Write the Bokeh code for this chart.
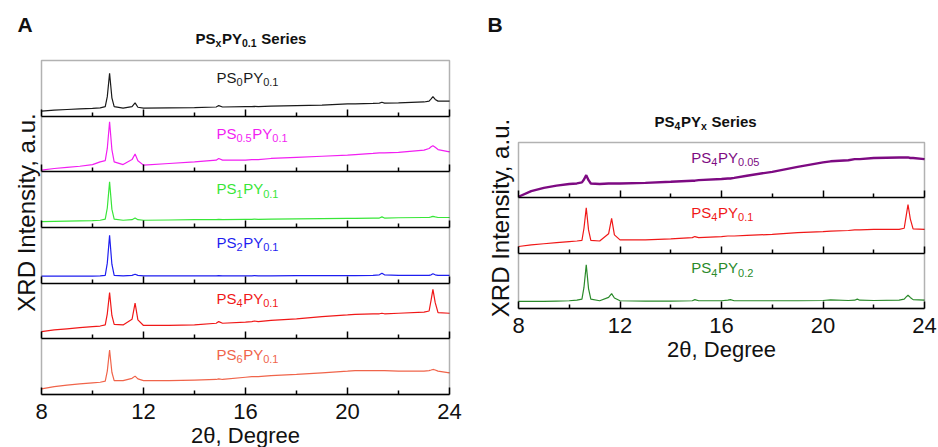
import numpy as np
from bokeh.plotting import figure
from bokeh.layouts import row
from bokeh.models import (Range1d, FixedTicker, LinearAxis, BoxAnnotation, ColumnDataSource,
                          CustomJSTickFormatter)
from bokeh.core.properties import value
from bokeh.embed import file_html
from bokeh.resources import INLINE

# ---------------- data (2-theta grid and band-relative intensities) ----------------
two_theta = [8.0, 8.5, 9.0, 9.5, 10.0, 10.3, 10.5, 10.58, 10.67, 10.76, 10.85, 11.2, 11.55,
             11.67, 11.78, 12.0, 13.0, 14.0, 14.85, 14.95, 15.1, 16.0, 16.25, 16.35, 16.5,
             17.0, 18.0, 19.0, 20.0, 20.3, 21.0, 21.25, 21.35, 21.45, 22.0, 23.0, 23.2,
             23.28, 23.35, 23.44, 23.55, 24.0]

major_ticks = [8, 12, 16, 20, 24]
minor_ticks = [10, 14, 18, 22]

# Panel A : PSxPY0.1 series (top to bottom)
ps0_py01 = [0.09, 0.11, 0.12, 0.13, 0.14, 0.15, 0.17, 0.35, 0.77, 0.33, 0.17, 0.145, 0.17,
            0.24, 0.16, 0.145, 0.15, 0.155, 0.165, 0.19, 0.165, 0.17, 0.17, 0.175, 0.17,
            0.18, 0.19, 0.20, 0.22, 0.22, 0.23, 0.235, 0.25, 0.235, 0.24, 0.255, 0.27,
            0.31, 0.35, 0.30, 0.27, 0.27]
ps05_py01 = [0.03, 0.06, 0.08, 0.10, 0.13, 0.18, 0.20, 0.42, 0.90, 0.40, 0.18, 0.13, 0.22,
             0.32, 0.20, 0.12, 0.15, 0.18, 0.21, 0.24, 0.21, 0.21, 0.22, 0.22, 0.22,
             0.24, 0.26, 0.28, 0.30, 0.31, 0.33, 0.34, 0.34, 0.34, 0.35, 0.39, 0.42,
             0.45, 0.47, 0.44, 0.40, 0.36]
ps1_py01 = [0.105, 0.11, 0.115, 0.12, 0.125, 0.13, 0.15, 0.35, 0.82, 0.33, 0.15, 0.13, 0.14,
            0.17, 0.14, 0.13, 0.135, 0.14, 0.14, 0.145, 0.14, 0.145, 0.145, 0.15, 0.145,
            0.15, 0.155, 0.16, 0.165, 0.165, 0.17, 0.17, 0.19, 0.17, 0.175, 0.18, 0.18,
            0.19, 0.20, 0.19, 0.18, 0.18]
ps2_py01 = [0.125, 0.125, 0.125, 0.125, 0.125, 0.13, 0.14, 0.36, 0.86, 0.34, 0.14, 0.13, 0.14,
            0.16, 0.14, 0.13, 0.13, 0.13, 0.13, 0.135, 0.13, 0.13, 0.13, 0.135, 0.13,
            0.13, 0.135, 0.135, 0.135, 0.135, 0.14, 0.15, 0.18, 0.15, 0.14, 0.14, 0.14,
            0.15, 0.17, 0.15, 0.14, 0.14]
ps4_py01 = [0.13, 0.16, 0.18, 0.20, 0.22, 0.23, 0.25, 0.45, 0.83, 0.42, 0.26, 0.25, 0.35,
            0.64, 0.34, 0.24, 0.24, 0.25, 0.28, 0.31, 0.28, 0.30, 0.31, 0.32, 0.31,
            0.33, 0.36, 0.40, 0.43, 0.44, 0.45, 0.45, 0.46, 0.45, 0.46, 0.48, 0.50,
            0.70, 0.89, 0.65, 0.47, 0.46]
ps6_py01 = [0.10, 0.14, 0.17, 0.19, 0.21, 0.22, 0.24, 0.42, 0.80, 0.40, 0.25, 0.25, 0.29,
            0.33, 0.28, 0.25, 0.25, 0.26, 0.27, 0.28, 0.27, 0.31, 0.32, 0.32, 0.32,
            0.34, 0.36, 0.39, 0.42, 0.43, 0.43, 0.43, 0.43, 0.43, 0.42, 0.42, 0.43,
            0.44, 0.45, 0.44, 0.42, 0.39]

# Panel B : PS4PYx series (top to bottom)
ps4_py005 = [0.02, 0.12, 0.18, 0.22, 0.25, 0.26, 0.28, 0.33, 0.41, 0.32, 0.26, 0.25, 0.26,
             0.26, 0.26, 0.26, 0.27, 0.29, 0.31, 0.31, 0.32, 0.34, 0.35, 0.35, 0.36,
             0.40, 0.47, 0.56, 0.64, 0.66, 0.68, 0.70, 0.70, 0.70, 0.72, 0.73, 0.73,
             0.73, 0.73, 0.72, 0.72, 0.70]
ps4_py01_b = [0.12, 0.15, 0.17, 0.19, 0.21, 0.22, 0.23, 0.45, 0.82, 0.42, 0.23, 0.22, 0.35,
              0.63, 0.33, 0.24, 0.24, 0.26, 0.28, 0.30, 0.28, 0.30, 0.31, 0.31, 0.31,
              0.32, 0.34, 0.37, 0.39, 0.40, 0.41, 0.42, 0.42, 0.42, 0.43, 0.43, 0.45,
              0.68, 0.88, 0.62, 0.44, 0.43]
ps4_py02 = [0.13, 0.13, 0.13, 0.135, 0.14, 0.15, 0.17, 0.38, 0.79, 0.36, 0.17, 0.14, 0.20,
            0.27, 0.19, 0.14, 0.135, 0.135, 0.14, 0.16, 0.14, 0.14, 0.15, 0.16, 0.14,
            0.14, 0.14, 0.14, 0.145, 0.155, 0.145, 0.15, 0.17, 0.15, 0.145, 0.15, 0.17,
            0.21, 0.24, 0.20, 0.16, 0.15]

a_series = [ps0_py01, ps05_py01, ps1_py01, ps2_py01, ps4_py01, ps6_py01]
a_sub_s = ["0", "0.5", "1", "2", "4", "6"]
a_sub_y = ["0.1", "0.1", "0.1", "0.1", "0.1", "0.1"]
a_colors = ["#1a1a1a", "#f21ef2", "#38e638", "#1e1ef0", "#f01818", "#f0644a"]

b_series = [ps4_py005, ps4_py01_b, ps4_py02]
b_sub_s = ["4", "4", "4"]
b_sub_y = ["0.05", "0.1", "0.2"]
b_colors = ["#7d0a82", "#f01818", "#2a8a2a"]

# ---------------- styling helpers ----------------
FONT = "Liberation Sans"
INK = "#111111"
MID = 0.3465   # middle of the em box above the baseline, in em
W_REG = {'P': .667, 'S': .667, 'Y': .667, '.': .278, 'x': .5, ' ': .278, 'e': .556,
         'r': .333, 'i': .222, 's': .5}
W_BOLD = {'P': .667, 'S': .667, 'Y': .667, '.': .278, 'x': .556, ' ': .278, 'e': .556,
          'r': .389, 'i': .278, 's': .556}


def compose(parts, main_px, sub_px, widths):
    out, cur = [], 0.0
    for txt, is_sub in parts:
        size = sub_px if is_sub else main_px
        lead = len(txt) - len(txt.lstrip(" "))
        cur += lead * widths[' '] * size
        body = txt.lstrip(" ")
        out.append((body, cur, is_sub, size))
        cur += sum(widths.get(c, .556) for c in body) * size + (0.6 if is_sub else 0.0)
    return out, cur


def add_composite(p, x, y, parts, main_px, sub_px, color, bold=False, drop=3.5):
    """x, y: data position of the left end of the main text baseline."""
    pieces, _ = compose(parts, main_px, sub_px, W_BOLD if bold else W_REG)
    src = ColumnDataSource(dict(
        x=[x] * len(pieces), y=[y] * len(pieces),
        text=[t for t, _, _, _ in pieces],
        xo=[o for _, o, _, _ in pieces],
        yo=[(drop if s else 0.0) - MID * z for _, _, s, z in pieces],
        size=["%gpx" % z for _, _, _, z in pieces]))
    p.text(x="x", y="y", text="text", x_offset="xo", y_offset="yo", text_font_size="size",
           text_color=color, text_font=value(FONT), text_baseline="middle",
           text_align="left", text_font_style="bold" if bold else "normal", source=src)


class Panel:
    """One figure whose frame is the whole canvas; the plot box sits at given pixels."""

    def __init__(self, width, height, left, right, top, bottom, nb):
        self.W, self.H = width, height
        self.left, self.top, self.bottom = left, top, bottom
        self.sx = (right - left) / 16.0
        self.sy = (bottom - top) / float(nb)
        self.nb = nb
        x0, x1 = self.px2x(0), self.px2x(width)
        y0, y1 = self.py2y(height), self.py2y(0)
        p = figure(width=width, height=height, output_backend="svg", toolbar_location=None,
                   x_range=Range1d(x0, x1), y_range=Range1d(y0, y1), title=None,
                   x_axis_location=None, y_axis_location=None,
                   min_border_left=0, min_border_right=0, min_border_top=0,
                   min_border_bottom=0)
        p.grid.visible = False
        p.outline_line_color = None
        p.background_fill_color = "white"
        p.border_fill_color = "white"
        self.p = p

    def px2x(self, px):
        return 8 + (px - self.left) / self.sx

    def py2y(self, py):
        return (self.bottom - py) / self.sy

    def build(self, series, colors, sub_s, sub_y, label_x, label_fracs, line_widths):
        p, nb = self.p, self.nb
        for i, (ys, col) in enumerate(zip(series, colors)):
            base = nb - 1 - i
            p.line(two_theta, [base + v for v in ys], line_color=col,
                   line_width=line_widths[i])
        # band axes: bottom one carries tick labels, the others only ticks
        for k in range(nb):
            ax = LinearAxis(fixed_location=k, bounds=(8, 24),
                            ticker=FixedTicker(ticks=major_ticks, minor_ticks=minor_ticks))
            ax.major_tick_in = 7
            ax.major_tick_out = 0
            ax.minor_tick_in = 4
            ax.minor_tick_out = 0
            ax.axis_line_width = 1.5
            ax.axis_line_color = "black"
            ax.major_tick_line_width = 1.5
            ax.minor_tick_line_width = 1.5
            ax.major_label_text_font = FONT
            ax.major_label_text_font_size = "22px"
            ax.major_label_text_color = INK
            ax.major_label_standoff = 9
            if k > 0:
                ax.formatter = CustomJSTickFormatter(code="return ''")
            p.add_layout(ax, "below")
        p.add_layout(BoxAnnotation(left=8, right=24, bottom=0, top=nb, fill_color=None,
                                   line_color="black", line_width=1.5))
        for i in range(nb):
            base = nb - 1 - i
            parts = [("PS", False), (sub_s[i], True), ("PY", False), (sub_y[i], True)]
            add_composite(p, label_x, base + label_fracs[i], parts, 15, 11, colors[i])

    def text(self, txt, px, py_base, size_px, angle=0.0, align="left", bold=False):
        """py_base: pixel row of the baseline (for rotated text: centre column)."""
        if angle == 0.0:
            py = py_base - MID * size_px
            x = self.px2x(px)
        else:
            py = py_base
            x = self.px2x(px)
        self.p.text(x=[x], y=[self.py2y(py)], text=[txt], angle=angle,
                    text_font=value(FONT), text_font_size=value("%gpx" % size_px),
                    text_color=INK, text_align=align, text_baseline="middle",
                    text_font_style="bold" if bold else "normal")

    def title(self, parts, px, py):
        add_composite(self.p, self.px2x(px), self.py2y(py), parts, 15, 10.5, INK,
                      bold=True, drop=3.0)


H = 447
A = Panel(470, H, 41, 449, 60, 394, len(a_series))
A.build(a_series, a_colors, a_sub_s, a_sub_y, 14.86,
        [0.60, 0.595, 0.60, 0.64, 0.64, 0.63], [1.2] * 6)
A.text("A", 17, 31.7, 21, bold=True)
A.title([("PS", False), ("x", True), ("PY", False), ("0.1", True), (" Series", False)],
        195, 43.3)
A.text("XRD Intensity, a.u.", 25.5, 212, 24, angle=np.pi / 2, align="center")
A.text("2θ, Degree", 245, 443, 22, align="center")

B = Panel(468, H, 48, 454, 142, 308, len(b_series))
B.build(b_series, b_colors, b_sub_s, b_sub_y, 14.81, [0.64, 0.65, 0.64], [2.4, 1.2, 1.2])
B.text("B", 17, 31.7, 21, bold=True)
B.title([("PS", False), ("4", True), ("PY", False), ("x", True), (" Series", False)],
        184, 126)
B.text("XRD Intensity, a.u.", 30, 217.5, 24, angle=np.pi / 2, align="center")
B.text("2θ, Degree", 251, 357, 22, align="center")

layout = row(A.p, B.p, spacing=0)
open("out.html", "w").write(file_html(layout, INLINE))
